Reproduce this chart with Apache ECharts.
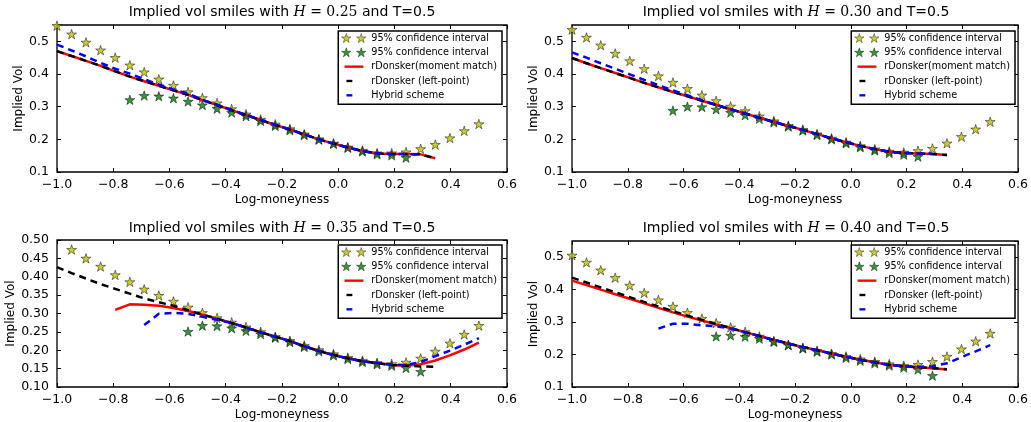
<!DOCTYPE html>
<html><head><meta charset="utf-8">
<script src="https://cdn.jsdelivr.net/npm/echarts@6/dist/echarts.min.js"></script>
<style>html,body{margin:0;padding:0;background:#fff}#c{width:1031px;height:422px}</style>
</head><body><div id="c"></div>
<script>
// ---- data ----
const X = [-1.000,-0.948,-0.897,-0.845,-0.793,-0.741,-0.690,-0.638,-0.586,-0.534,-0.483,-0.431,-0.379,-0.328,-0.276,-0.224,-0.172,-0.121,-0.069,-0.017,0.034,0.086,0.138,0.190,0.241,0.293,0.345,0.397,0.448,0.500];
const H_LABELS = ['0.25','0.30','0.35','0.40'];
const X_TICKS = {min:-1.0, max:0.6, step:0.2};

// H = 0.25
const U25 = [0.548,0.522,0.497,0.473,0.450,0.427,0.406,0.384,0.365,0.345,0.327,0.311,0.293,0.277,0.261,0.246,0.232,0.216,0.201,0.188,0.176,0.166,0.158,0.158,0.161,0.171,0.184,0.204,0.226,0.247];
const L25 = [null,null,null,null,null,0.321,0.334,0.332,0.326,0.316,0.305,0.294,0.282,0.271,0.256,0.241,0.228,0.213,0.199,0.186,0.174,0.163,0.154,0.151,0.144,null,null,null,null,null];
const RM25 = [0.470,0.455,0.440,0.425,0.408,0.392,0.378,0.364,0.350,0.336,0.320,0.305,0.289,0.274,0.259,0.244,0.230,0.215,0.200,0.187,0.175,0.164,0.157,0.155,0.155,0.154,0.142,null,null,null];
const RL25 = [0.470,0.455,0.440,0.425,0.408,0.392,0.378,0.364,0.350,0.336,0.320,0.305,0.289,0.274,0.259,0.244,0.230,0.215,0.200,0.187,0.175,0.164,0.157,0.155,0.155,0.154,0.142,null,null,null];
const HY25 = [0.490,0.472,0.454,0.434,0.416,0.401,0.384,0.368,0.353,0.340,0.321,0.306,0.290,0.275,0.260,0.245,0.230,0.215,0.200,0.187,0.175,0.164,0.157,0.155,0.155,0.154,null,null,null,null];

// H = 0.30
const U30 = [0.536,0.512,0.488,0.463,0.440,0.416,0.394,0.374,0.355,0.335,0.318,0.301,0.287,0.271,0.256,0.242,0.230,0.216,0.203,0.191,0.180,0.170,0.163,0.160,0.165,0.172,0.188,0.208,0.231,0.254];
const L30 = [null,null,null,null,null,null,null,0.288,0.300,0.299,0.292,0.282,0.274,0.263,0.252,0.239,0.227,0.213,0.200,0.188,0.176,0.166,0.158,0.153,0.147,null,null,null,null,null];
const RM30 = [0.449,0.433,0.418,0.403,0.388,0.373,0.359,0.345,0.332,0.318,0.305,0.292,0.279,0.266,0.253,0.241,0.229,0.216,0.203,0.191,0.180,0.170,0.162,0.158,0.157,0.155,0.152,null,null,null];
const RL30 = [0.449,0.433,0.418,0.403,0.388,0.373,0.359,0.345,0.332,0.318,0.305,0.292,0.279,0.266,0.253,0.241,0.229,0.216,0.203,0.191,0.180,0.170,0.162,0.158,0.157,0.155,0.152,null,null,null];
const HY30 = [0.466,0.450,0.433,0.416,0.399,0.382,0.366,0.350,0.335,0.320,0.306,0.292,0.279,0.266,0.253,0.241,0.229,0.216,0.203,0.191,0.180,0.170,0.162,0.158,0.157,0.156,null,null,null,null];

// H = 0.35
const U35 = [null,0.474,0.450,0.428,0.405,0.386,0.366,0.349,0.333,0.317,0.302,0.288,0.276,0.263,0.250,0.237,0.226,0.213,0.201,0.190,0.180,0.172,0.166,0.163,0.167,0.178,0.197,0.219,0.243,0.267];
const L35 = [null,null,null,null,null,null,null,null,null,0.251,0.267,0.266,0.260,0.253,0.244,0.234,0.222,0.209,0.197,0.186,0.176,0.168,0.162,0.158,0.152,0.142,null,null,null,null];
const RM35 = [null,null,null,null,0.310,0.325,0.324,0.321,0.315,0.307,0.297,0.286,0.274,0.262,0.249,0.237,0.225,0.211,0.198,0.187,0.178,0.170,0.165,0.160,0.158,0.162,0.172,0.186,0.202,0.221];
const RL35 = [0.426,0.410,0.395,0.380,0.367,0.354,0.341,0.331,0.321,0.309,0.297,0.286,0.274,0.262,0.249,0.237,0.225,0.211,0.198,0.187,0.178,0.170,0.165,0.160,0.158,0.156,0.155,null,null,null];
const HY35 = [null,null,null,null,null,null,0.269,0.299,0.302,0.299,0.291,0.283,0.274,0.262,0.249,0.237,0.225,0.211,0.198,0.187,0.178,0.170,0.165,0.161,0.160,0.168,0.184,0.199,0.215,0.233];

// H = 0.40
const U40 = [0.506,0.484,0.460,0.437,0.413,0.390,0.368,0.348,0.329,0.311,0.297,0.284,0.270,0.256,0.242,0.230,0.221,0.212,0.203,0.194,0.186,0.178,0.171,0.166,0.169,0.178,0.194,0.217,0.241,0.265];
const L40 = [null,null,null,null,null,null,null,null,null,null,0.256,0.259,0.255,0.249,0.239,0.229,0.219,0.209,0.200,0.190,0.181,0.173,0.166,0.160,0.154,0.135,null,null,null,null];
const RM40 = [0.428,0.414,0.400,0.386,0.372,0.358,0.344,0.330,0.317,0.305,0.293,0.281,0.269,0.257,0.245,0.234,0.223,0.213,0.203,0.193,0.184,0.176,0.168,0.164,0.161,0.158,0.154,null,null,null];
const RL40 = [0.437,0.422,0.407,0.392,0.377,0.362,0.348,0.334,0.320,0.307,0.294,0.282,0.269,0.257,0.245,0.234,0.223,0.213,0.203,0.193,0.184,0.176,0.168,0.164,0.161,0.158,0.155,null,null,null];
const HY40 = [null,null,null,null,null,null,0.280,0.295,0.295,0.290,0.287,0.280,0.269,0.257,0.245,0.234,0.223,0.213,0.203,0.193,0.184,0.176,0.168,0.164,0.162,0.164,0.173,0.192,0.210,0.229];

const Y_RANGES = [
  {min:0.1, max:0.55, step:0.1, dec:1},
  {min:0.1, max:0.55, step:0.1, dec:1},
  {min:0.1, max:0.5, step:0.05, dec:2},
  {min:0.1, max:0.55, step:0.1, dec:1}
];
const NAMES = ['95% confidence interval','95% confidence interval ','rDonsker(moment match)','rDonsker (left-point)','Hybrid scheme'];

// ---- layout ----
const GRIDS = [
  {left:57, top:25, width:450, height:147},
  {left:572, top:25, width:449, height:147},
  {left:57, top:240, width:450, height:147},
  {left:572, top:241, width:449, height:146}
];
const SERIES_SETS = [
  [U25,L25,RM25,RL25,HY25],
  [U30,L30,RM30,RL30,HY30],
  [U35,L35,RM35,RL35,HY35],
  [U40,L40,RM40,RL40,HY40]
];

const STAR = 'path://M50 0L61.23 34.55L97.55 34.55L68.17 55.9L79.39 90.45L50 69.1L20.61 90.45L31.83 55.9L2.45 34.55L38.77 34.55Z';
const STAR2 = 'path://M50 0L61.23 34.55L97.55 34.55L68.17 55.9L79.39 90.45L50 69.1L20.61 90.45L31.83 55.9L2.45 34.55L38.77 34.55Z' +
  'M200 0L211.23 34.55L247.55 34.55L218.17 55.9L229.39 90.45L200 69.1L170.61 90.45L181.83 55.9L152.45 34.55L188.77 34.55Z';
const LINE_ICON = 'path://M-14 5L-14 5M0 3.5H80V13.5H0ZM92 5L92 5';
const DASH_ICON = 'path://M-14 5L-14 5M8 3.5H33V13.5H8ZM92 5L92 5';

const FONT = 'DejaVu Sans';
function pairs(ys){ const out=[]; ys.forEach((y,i)=>{ if(y!=null) out.push([X[i],y]); }); return out; }
function xfmt(v){ if(Math.abs(v)<1e-9) return '0.0'; return (v<0?'\u2212':'')+Math.abs(v).toFixed(1); }

const option = {
  animation:false,
  backgroundColor:'#fff',
  title:[], grid:[], xAxis:[], yAxis:[], legend:[], series:[]
};

const TITLE_POS = [{x:282,y:5},{x:796,y:5},{x:282,y:221},{x:796,y:221}];

GRIDS.forEach((g,p)=>{
  option.grid.push(Object.assign({show:true, borderColor:'#000', borderWidth:1.3, backgroundColor:'transparent', containLabel:false}, g));
  option.title.push({
    text:'{a|Implied vol smiles with }{h|H}{m| = '+H_LABELS[p]+'}{a| and T=0.5}',
    left:TITLE_POS[p].x, top:TITLE_POS[p].y, textAlign:'center', padding:0,
    textStyle:{fontWeight:'normal', rich:{
      a:{fontFamily:FONT, fontSize:14, fontWeight:'normal', color:'#000'},
      h:{fontFamily:'DejaVu Serif', fontStyle:'italic', fontWeight:'normal', fontSize:14, color:'#000'},
      m:{fontFamily:'DejaVu Serif', fontWeight:'normal', fontSize:14, color:'#000'}
    }}
  });
  const yr = Y_RANGES[p];
  const tick = {show:true, inside:true, length:4, lineStyle:{color:'#000', width:1}};
  const line = {show:false, onZero:false};
  option.xAxis.push({type:'value', gridIndex:p, min:X_TICKS.min, max:X_TICKS.max, interval:X_TICKS.step,
    axisLine:line, axisTick:tick, splitLine:{show:false},
    axisLabel:{formatter:xfmt, color:'#000', fontFamily:FONT, fontSize:12.5, margin:6},
    name:'Log-moneyness', nameLocation:'middle', nameGap:22,
    nameTextStyle:{fontFamily:FONT, fontSize:12, color:'#000'}});
  option.xAxis.push({type:'value', gridIndex:p, position:'top', min:X_TICKS.min, max:X_TICKS.max, interval:X_TICKS.step,
    axisLine:line, axisTick:tick, splitLine:{show:false}, axisLabel:{show:false}});
  option.yAxis.push({type:'value', gridIndex:p, position:'left', min:yr.min, max:yr.max, interval:yr.step,
    axisLine:line, axisTick:tick, splitLine:{show:false},
    axisLabel:{formatter:v=>v.toFixed(yr.dec), color:'#000', fontFamily:FONT, fontSize:12.5, margin:8, showMaxLabel: yr.max===0.5},
    name:'Implied Vol', nameLocation:'middle', nameGap:30,
    nameTextStyle:{fontFamily:FONT, fontSize:12, color:'#000'}});
  option.yAxis.push({type:'value', gridIndex:p, position:'right', min:yr.min, max:yr.max, interval:yr.step,
    axisLine:line, axisTick:tick, splitLine:{show:false}, axisLabel:{show:false}});

  const S = SERIES_SETS[p];
  const xi = 2*p, yi = 2*p;
  option.series.push({type:'scatter', name:NAMES[0], xAxisIndex:xi, yAxisIndex:yi, data:pairs(S[0]),
    symbol:STAR, symbolKeepAspect:true, symbolSize:10,
    itemStyle:{color:'#bfbf00', borderColor:'#000', borderWidth:0.6}, z:2});
  option.series.push({type:'scatter', name:NAMES[1], xAxisIndex:xi, yAxisIndex:yi, data:pairs(S[1]),
    symbol:STAR, symbolKeepAspect:true, symbolSize:10,
    itemStyle:{color:'#008000', borderColor:'#000', borderWidth:0.6}, z:2});
  option.series.push({type:'line', name:NAMES[2], xAxisIndex:xi, yAxisIndex:yi, data:pairs(S[2]),
    showSymbol:false, lineStyle:{color:'#ff0000', width:2.5}, itemStyle:{color:'#ff0000'}, z:3});
  option.series.push({type:'line', name:NAMES[3], xAxisIndex:xi, yAxisIndex:yi, data:pairs(S[3]),
    showSymbol:false, lineStyle:{color:'#000', width:2.5, type:[7,5]}, itemStyle:{color:'#000'}, z:3});
  option.series.push({type:'line', name:NAMES[4], xAxisIndex:xi, yAxisIndex:yi, data:pairs(S[4]),
    showSymbol:false, lineStyle:{color:'#0000ff', width:2.5, type:[7,5]}, itemStyle:{color:'#0000ff'}, z:3});
});

const LEGEND_POS = [{right:1031-502, top:31},{right:1031-1015, top:31},{right:1031-502, top:245},{right:1031-1015, top:245}];
LEGEND_POS.forEach(lp=>{
  option.legend.push({
    orient:'vertical', right:lp.right, top:lp.top, padding:[1,5,3,3],
    itemWidth:25, itemHeight:9, itemGap:2.33, selectedMode:false,
    borderColor:'#000', borderWidth:1.5, backgroundColor:'#fff', borderRadius:0,
    textStyle:{fontFamily:FONT, fontSize:9.7, color:'#000', lineHeight:12},
    data:[
      {name:NAMES[0], icon:STAR2, itemStyle:{color:'#bfbf00', borderColor:'#000', borderWidth:0.5}},
      {name:NAMES[1], icon:STAR2, itemStyle:{color:'#008000', borderColor:'#000', borderWidth:0.5}},
      {name:NAMES[2], icon:LINE_ICON, itemStyle:{color:'#ff0000', borderWidth:0}},
      {name:NAMES[3], icon:DASH_ICON, itemStyle:{color:'#000', borderWidth:0}},
      {name:NAMES[4], icon:DASH_ICON, itemStyle:{color:'#0000ff', borderWidth:0}}
    ]
  });
});

const chart = echarts.init(document.getElementById('c'), null, {renderer:'canvas'});
chart.setOption(option);
</script>
</body></html>
